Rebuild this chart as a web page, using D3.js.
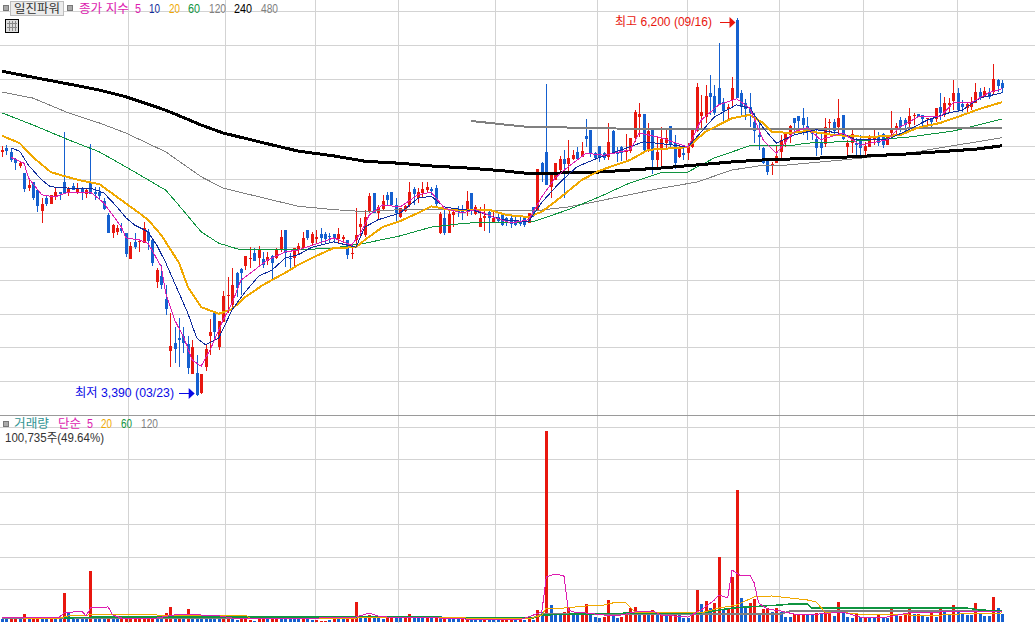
<!DOCTYPE html>
<html><head><meta charset="utf-8">
<script src="https://cdn.jsdelivr.net/npm/d3@7/dist/d3.min.js"></script>
<style>html,body{margin:0;padding:0;background:#fff;overflow:hidden}svg{display:block}text{font-family:"Liberation Sans","Noto Sans CJK KR",sans-serif;font-size:12px}</style>
</head><body><svg id="c" width="1035" height="623"></svg>
<script>
const high=[5250,5255,5235,5160,5130,5050,4995,4980,4920,4860,
4885,4885,4945,4905,5355,4945,4975,4975,4945,4935,
5265,4945,4945,4860,4750,4670,4660,4675,4600,4535,
4600,4555,4685,4630,4565,4340,4365,4215,4005,3900,
3970,3900,3835,3805,3695,3555,3775,3960,4005,3945,
4170,4275,4340,4310,4340,4430,4495,4490,4505,4460,
4460,4440,4490,4625,4625,4455,4490,4525,4610,4625,
4610,4625,4640,4610,4600,4595,4640,4585,4550,4510,
4785,4715,4775,4900,4900,4810,4885,4905,4905,4860,
4785,4810,4980,4945,4935,4980,4980,4945,4960,4760,
4785,4775,4775,4800,4810,4915,4900,4810,4795,4815,
4775,4775,4750,4750,4720,4735,4730,4720,4730,4750,
4795,5080,5130,5710,5050,5120,5175,5220,5295,5220,
5240,5280,5450,5370,5205,5250,5205,5420,5370,5240,
5250,5340,5310,5515,5570,5485,5420,5385,5315,5390,
5385,5400,5330,5255,5240,5270,5385,5715,5630,5705,
5775,5705,6015,5605,5560,5760,6200,5665,5600,5645,
5495,5440,5240,5160,5130,5250,5330,5355,5405,5455,
5470,5530,5465,5385,5375,5345,5455,5450,5450,5600,
5480,5295,5385,5310,5330,5280,5330,5370,5355,5345,
5330,5510,5420,5465,5455,5530,5495,5485,5480,5455,
5455,5530,5645,5615,5605,5740,5680,5590,5575,5615,
5715,5680,5690,5680,5860,5745,5740];
const low=[5165,5180,5130,5070,5085,4905,4915,4845,4760,4675,
4800,4815,4845,4845,4890,4875,4920,4890,4845,4860,
4890,4845,4845,4775,4600,4565,4585,4600,4425,4410,
4480,4460,4525,4475,4355,4190,4185,3990,3605,3635,
3605,3710,3555,3555,3390,3405,3575,3695,3805,3730,
3945,4005,4050,4125,4140,4325,4340,4395,4350,4340,
4365,4245,4410,4460,4350,4340,4355,4440,4480,4550,
4510,4525,4520,4520,4525,4525,4525,4525,4410,4410,
4495,4580,4570,4750,4750,4700,4775,4810,4810,4675,
4715,4760,4795,4810,4825,4870,4900,4885,4795,4595,
4585,4600,4645,4720,4700,4730,4735,4735,4645,4615,
4600,4675,4675,4655,4655,4640,4655,4655,4645,4675,
4720,4775,4980,4960,4860,4995,5050,4860,5050,5145,
5145,5165,5240,5165,5145,5130,5145,5145,5195,5130,
5135,5145,5195,5280,5315,5205,5205,5040,5085,5095,
5235,5240,5080,5160,5145,5145,5235,5355,5370,5420,
5480,5480,5555,5425,5440,5530,5605,5465,5440,5390,
5270,5220,5115,5035,5035,5120,5145,5240,5270,5330,
5340,5330,5295,5295,5175,5180,5240,5330,5340,5325,
5295,5165,5195,5180,5175,5180,5240,5255,5250,5235,
5255,5310,5330,5355,5355,5370,5405,5465,5385,5390,
5385,5425,5440,5465,5495,5515,5500,5500,5500,5515,
5570,5590,5615,5600,5635,5650,5645];
const open=[5205,5235,5205,5150,5100,5050,4935,4980,4920,4765,
4860,4815,4875,4905,4980,4905,4950,4905,4930,4890,
4975,4905,4905,4840,4735,4600,4610,4640,4600,4410,
4535,4535,4525,4610,4550,4235,4280,4110,3725,3785,
3820,3835,3775,3555,3560,3410,3605,3835,4005,3755,
3945,4135,4065,4305,4335,4355,4410,4455,4415,4410,
4395,4430,4415,4475,4625,4415,4415,4475,4490,4625,
4525,4555,4595,4595,4580,4595,4555,4555,4550,4445,
4550,4645,4585,4760,4900,4750,4780,4885,4905,4810,
4720,4765,4810,4930,4860,4900,4920,4930,4935,4600,
4715,4600,4735,4780,4775,4760,4900,4745,4645,4715,
4760,4685,4720,4750,4715,4715,4690,4685,4720,4675,
4795,4775,5120,5205,4945,4995,5070,5150,5115,5150,
5205,5165,5325,5370,5195,5250,5195,5165,5360,5195,
5240,5205,5210,5310,5465,5485,5220,5385,5145,5225,
5270,5400,5270,5165,5195,5195,5240,5360,5470,5465,
5645,5620,5680,5575,5525,5590,6185,5645,5570,5540,
5425,5330,5235,5150,5105,5120,5205,5280,5330,5455,
5470,5455,5400,5385,5300,5280,5265,5420,5425,5390,
5480,5240,5270,5270,5300,5210,5240,5300,5325,5340,
5255,5345,5385,5440,5440,5410,5470,5485,5480,5450,
5455,5450,5540,5495,5555,5585,5645,5560,5530,5540,
5570,5650,5615,5650,5645,5740,5715];
const close=[5220,5210,5145,5120,5120,4930,4960,4860,4800,4815,
4815,4885,4905,4890,4890,4930,4920,4935,4905,4920,
4890,4890,4875,4780,4600,4660,4640,4615,4445,4505,
4495,4540,4640,4540,4380,4325,4215,4035,3760,3740,
3805,3785,3595,3755,3395,3555,3740,3865,3865,3945,
4135,4140,4215,4190,4305,4430,4415,4395,4475,4365,
4425,4380,4480,4570,4455,4410,4490,4505,4565,4565,
4595,4570,4565,4555,4570,4565,4595,4570,4440,4455,
4585,4670,4720,4875,4750,4795,4840,4845,4810,4750,
4785,4800,4905,4890,4905,4930,4945,4915,4815,4745,
4600,4745,4760,4760,4750,4840,4775,4795,4715,4730,
4715,4715,4690,4660,4675,4670,4660,4670,4660,4750,
4750,5080,5055,4960,5040,5120,5150,5115,5160,5180,
5150,5210,5300,5190,5160,5165,5160,5280,5195,5190,
5195,5220,5310,5500,5485,5220,5360,5145,5205,5300,
5310,5255,5120,5240,5180,5240,5370,5690,5500,5620,
5615,5495,5560,5510,5540,5680,5605,5540,5525,5495,
5360,5315,5120,5050,5115,5175,5295,5345,5400,5420,
5435,5405,5355,5340,5235,5235,5390,5425,5355,5455,
5300,5270,5340,5255,5235,5250,5325,5310,5270,5255,
5325,5370,5400,5390,5405,5470,5480,5465,5450,5455,
5425,5530,5495,5570,5570,5645,5515,5540,5560,5570,
5650,5615,5660,5615,5745,5695,5675];
const volumeK=[37,37,37,61,37,98,43,37,37,37,
37,37,37,37,357,111,37,37,37,37,
627,55,37,37,61,61,31,31,68,37,
37,37,37,37,37,49,49,111,185,61,
74,49,160,49,61,49,61,61,61,49,
49,49,49,25,37,49,25,18,37,37,
37,37,37,49,49,49,37,37,31,31,
25,25,18,18,25,37,37,37,37,37,
246,74,74,86,61,61,37,49,49,49,
49,49,98,74,61,49,49,49,74,74,
61,61,37,37,37,37,37,37,37,37,
25,25,25,25,25,25,25,37,25,74,
25,148,123,2349,209,111,111,123,172,86,
98,86,221,111,61,55,61,271,86,49,
61,86,172,185,135,135,86,148,86,86,
86,86,111,98,49,49,86,394,221,258,
172,234,800,148,160,553,1624,295,197,234,
283,111,160,172,123,172,123,61,61,98,
86,98,98,86,111,98,123,148,74,246,
123,61,49,111,61,61,49,49,98,49,
49,185,74,74,98,185,98,98,74,61,
111,61,185,135,86,209,148,98,86,86,
234,98,74,74,308,172,101];
const volumeDir=("BBRRBRBRRB"+"BRBBRBBBBB"+"RBBBRBBRRR"+"RRRRRBBRRB"+"RBRBBBBBBB"+"RRBBRRRBRR"+"BRRBBBBBRB"+"BRRRBRBBRR"+"RBBRBBBRRB"+"BRRBBBRBRB"+"RBBBRRBBBR"+"BBBRRRBRBR"+"BRBRBBBRRB"+"BRRBBBRRBB"+"RRRRBRBRBR"+"BRRBBBRRBR"+"BRRBRRRBBR"+"RBRRBRBBBR"+"RRBBRBRRBR"+"BBBRBRBBRB"+"BRBRRRBRBB"+"RBRBBRBBBB"+"RBBBRBB").split("");

// moving average lines: candle index + value read at that index
const ma5Idx=[2,5,6,9,12,15,20,23,25,27,28,31,33,36,37,39,41,43,45,47,50,52,54,58,60,64,67,75,79,81,83,86,90,94,97,100,104,107,111,115,119,122,125,128,132,136,142,144,149,155,158,162,166,169,172,175,179,182,185,190,194,200,203,207,212,215,219,223,226];
const ma5=[5165,5120,5010,4885,4870,4905,4905,4825,4735,4645,4565,4550,4525,4350,4155,3955,3830,3655,3610,3730,3955,4080,4250,4350,4400,4460,4475,4565,4510,4600,4735,4810,4795,4885,4905,4785,4750,4775,4720,4675,4700,4870,5010,5095,5195,5180,5220,5345,5310,5240,5440,5555,5600,5530,5295,5195,5355,5385,5295,5345,5255,5295,5390,5465,5465,5570,5570,5645,5675];
const ma10Idx=[2,4,6,9,11,15,20,23,26,28,30,33,35,37,40,42,44,46,49,52,55,58,61,64,67,70,75,80,82,85,90,94,97,100,103,107,113,119,122,126,130,134,140,145,152,155,161,166,169,172,175,179,184,190,193,200,205,209,214,217,221,226];
const ma10=[5235,5210,5105,4995,4945,4935,4935,4900,4795,4715,4660,4610,4510,4380,4155,4005,3820,3770,3820,4030,4165,4280,4325,4415,4440,4495,4535,4495,4645,4700,4750,4860,4875,4795,4780,4765,4700,4685,4830,4975,5095,5150,5220,5280,5255,5240,5465,5555,5530,5385,5270,5330,5370,5340,5295,5295,5370,5440,5495,5515,5605,5645];
const ma20Idx=[0,4,7,11,14,18,22,27,31,33,36,40,42,45,49,52,55,59,64,67,70,75,80,82,86,90,94,97,101,110,114,119,122,126,131,135,142,146,155,159,165,169,172,174,178,182,188,196,203,207,212,216,221,226];
const ma20=[5325,5270,5165,5055,5025,4990,4965,4845,4750,4700,4585,4380,4200,4050,4000,4035,4125,4215,4305,4365,4415,4490,4495,4550,4645,4690,4750,4800,4775,4775,4735,4720,4760,4860,4995,5065,5145,5220,5240,5355,5455,5480,5420,5355,5345,5360,5330,5315,5330,5385,5420,5465,5525,5575];
const ma60Idx=[0,7,15,22,30,37,39,45,49,54,67,75,82,90,97,105,120,128,135,142,149,155,161,165,169,178,182,193,205,215,220,226];
const ma60=[5495,5405,5295,5205,5055,4920,4845,4610,4525,4475,4475,4490,4525,4580,4645,4675,4685,4775,4870,4975,5050,5055,5160,5205,5250,5250,5270,5285,5315,5360,5400,5450];
const ma120Idx=[0,7,15,22,28,37,45,50,60,67,75,82,90,97,105,113,120,128,135,149,157,165,172,175,190,205,212,226];
const ma120=[5650,5605,5495,5420,5345,5205,5020,4935,4855,4800,4775,4760,4775,4775,4775,4765,4765,4795,4840,4935,4980,5070,5105,5100,5145,5195,5235,5310];
const ma240Idx=[0,7,15,22,28,37,45,50,60,67,75,82,90,97,105,113,120,128,135,149,165,172,190,205,220,226];
const ma240=[5805,5760,5710,5665,5615,5515,5405,5345,5265,5210,5175,5135,5120,5100,5085,5065,5040,5050,5055,5085,5130,5145,5165,5190,5225,5250];
const ma480Idx=[106,113,119,130,144,175,192,226];
const ma480=[5435,5410,5390,5385,5375,5375,5375,5385];

const vma5Idx=[0,6,9,13,14,18,19,20,24,25,27,35,40,44,45,48,52,63,80,83,85,87,99,110,117,122,123,125,127,128,130,132,136,140,143,147,149,155,158,161,162,164,165,167,169,170,171,173,176,179,182,190,194,200,205,212,220,226];
const vma5=[61,61,61,61,111,135,74,172,185,86,49,49,98,98,86,86,49,37,61,111,74,61,49,25,25,123,553,590,566,148,111,111,86,86,123,135,86,61,148,271,332,295,640,566,578,480,234,160,135,98,86,123,61,61,111,123,123,135];
const vma20Idx=[5,13,15,19,20,33,35,55,56,80,99,105,119,122,123,127,132,136,138,141,143,147,158,162,166,170,174,176,178,182,184,185,186,191,196,201,209,216,226];
const vma20=[49,49,74,74,98,98,86,86,49,49,61,49,37,86,172,172,197,209,234,234,123,111,111,172,209,308,320,308,295,271,246,185,123,111,86,98,74,98,111];
const vma60Idx=[14,22,99,100,120,122,130,144,158,165,172,176,178,182,183,218,221,226];
const vma60=[49,61,61,49,49,86,98,111,111,172,197,209,221,221,172,172,148,135];
const vma120Idx=[0,60,90,120,122,176,178,226];
const vma120=[49,49,61,49,98,98,135,135];

const priceGrid=d3.range(3500,6251,250);
const volumeGrid=d3.range(400,2401,400);
const monthGrid=[28.5,50.4,70.7,89.5,111.4,134.5,154.8,175.6,194.6,215.8];

const RED="#e8170f",BLUE="#1560cf",MAG="#dd1cb0",NAVY="#0f2c9c",ORG="#f0a800",GRN="#0f9440",GRY="#808080";
const n=close.length;
const x=d3.scaleLinear().domain([0,n-1]).range([2,1002]);
const y=d3.scaleLinear().domain([3500,6000]).range([381,45]);
const v=d3.scaleLinear().domain([0,2349]).range([622,431]);
const svg=d3.select("#c");
const crisp=s=>s.attr("shape-rendering","crispEdges");

// grid
const g=svg.append("g").call(crisp).attr("stroke","#d3d3d3").attr("stroke-width",1);
const px=d=>Math.round(d)+.5;
g.selectAll(".h").data(priceGrid).join("line").attr("x1",0).attr("x2",1035).attr("y1",d=>px(y(d))).attr("y2",d=>px(y(d)));
g.selectAll(".vh").data(volumeGrid).join("line").attr("x1",0).attr("x2",1035).attr("y1",d=>px(v(d))).attr("y2",d=>px(v(d)));
g.selectAll(".v").data(monthGrid).join("line").attr("x1",d=>px(x(d))).attr("x2",d=>px(x(d))).attr("y1",0).attr("y2",623);
svg.append("line").call(crisp).attr("x1",0).attr("x2",1035).attr("y1",415.5).attr("y2",415.5).attr("stroke","#9a9a9a");

// candles
const idx=d3.range(n);
const isUp=i=>close[i]>=open[i];
const cg=svg.append("g").call(crisp);
cg.selectAll(".w").data(idx).join("line")
 .attr("x1",i=>Math.round(x(i))+.5).attr("x2",i=>Math.round(x(i))+.5)
 .attr("y1",i=>y(high[i])).attr("y2",i=>y(low[i]))
 .attr("stroke",i=>isUp(i)?RED:BLUE);
cg.selectAll(".b").data(idx).join("rect")
 .attr("x",i=>Math.round(x(i))-1).attr("width",3)
 .attr("y",i=>Math.round(y(Math.max(open[i],close[i]))))
 .attr("height",i=>Math.max(1,Math.round(Math.abs(y(open[i])-y(close[i])))))
 .attr("fill",i=>isUp(i)?RED:BLUE);

// price MAs
const pl=d3.line().x(d=>x(d[0])).y(d=>y(d[1]));
const draw=(ix,vals,line,col,w)=>svg.append("path").attr("d",line(ix.map((k,j)=>[k,vals[j]])))
 .attr("fill","none").attr("stroke",col).attr("stroke-width",w).attr("stroke-linejoin","round").call(crisp);
draw(ma120Idx,ma120,pl,GRY,1);
draw(ma60Idx,ma60,pl,GRN,1);
draw(ma480Idx,ma480,pl,GRY,2);
draw(ma240Idx,ma240,pl,"#000",3);
draw(ma20Idx,ma20,pl,ORG,2);
draw(ma10Idx,ma10,pl,NAVY,1);
draw(ma5Idx,ma5,pl,MAG,1);

// volume
svg.append("g").call(crisp).selectAll("rect").data(idx).join("rect")
 .attr("x",i=>Math.round(x(i))-1).attr("width",3)
 .attr("y",i=>Math.round(v(volumeK[i]))).attr("height",i=>622-Math.round(v(volumeK[i])))
 .attr("fill",i=>volumeDir[i]==="R"?RED:BLUE);
const vl=d3.line().x(d=>x(d[0])).y(d=>v(d[1]));
draw(vma120Idx,vma120,vl,GRY,1.5);
draw(vma60Idx,vma60,vl,GRN,1.5);
draw(vma20Idx,vma20,vl,ORG,1);
draw(vma5Idx,vma5,vl,MAG,1);

// header
const sq=(xp,yp)=>svg.append("rect").call(crisp).attr("x",xp).attr("y",yp).attr("width",5).attr("height",5).attr("fill","#aaa").attr("stroke","#777");
sq(3,5);sq(67,5);sq(3,421);
svg.append("rect").call(crisp).attr("x",10.5).attr("y",1.5).attr("width",53).attr("height",14).attr("fill","#ececec").attr("stroke","#bdbdbd");
const labels=[
 ["일진파워",14,13,46,"#333"],["종가 지수",79,13,50,MAG],["5",135,13,6,MAG],["10",149,13,11,NAVY],["20",169,13,11,ORG],["60",188,13,12,GRN],["120",209,13,17,GRY],["240",234,13,18,"#000"],["480",261,13,17,GRY],
 ["거래량",14,428,35,"#309494"],["단순",58,428,23,MAG],["5",87,428,6,MAG],["20",101,428,11,ORG],["60",121,428,11,GRN],["120",141,428,17,GRY],
 ["100,735주(49.64%)",5,442,99,"#333"],
 ["최고 6,200 (09/16)",615,26,97,RED],["최저 3,390 (03/23)",75,397,99,"#0a0ae6"]];
svg.append("g").selectAll("text").data(labels).join("text")
 .attr("x",d=>d[1]).attr("y",d=>d[2]).attr("textLength",d=>d[3]).attr("lengthAdjust","spacingAndGlyphs").attr("fill",d=>d[4]).text(d=>d[0]);

// icon
const ic=svg.append("g").call(crisp);
ic.append("rect").attr("x",5.5).attr("y",19.5).attr("width",13).attr("height",13).attr("fill","#ddd").attr("stroke","#000");
[9.5,12.5,15.5].forEach(k=>ic.append("line").attr("x1",k).attr("x2",k).attr("y1",21).attr("y2",31).attr("stroke","#888"));
[23.5,27.5].forEach(k=>ic.append("line").attr("x1",7).attr("x2",17).attr("y1",k).attr("y2",k).attr("stroke","#888"));

// extreme arrows
const arrow=(tip,yp,col)=>{
 svg.append("line").call(crisp).attr("x1",tip-16).attr("x2",tip-6).attr("y1",yp+.5).attr("y2",yp+.5).attr("stroke",col);
 svg.append("path").attr("d",d3.line()([[tip-6,yp-5],[tip,yp+.5],[tip-6,yp+6]])).attr("fill",col);
};
arrow(x(166)-1,22,RED);
arrow(x(44)-2,393,"#0a0ae6");
</script></body></html>
